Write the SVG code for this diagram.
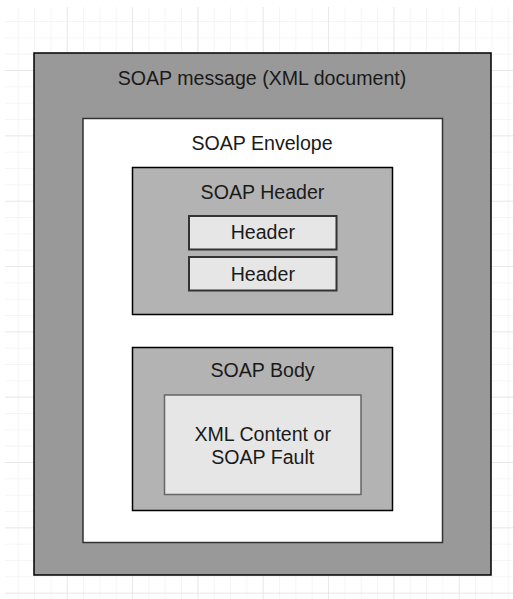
<svg xmlns="http://www.w3.org/2000/svg" width="513" height="599" viewBox="0 0 513 599">
  <style>
    .lbl { font-family: "Liberation Sans", Arial, sans-serif; font-size: 19.6px; fill: #1a1a1a; text-anchor: middle; }
    .box { stroke: #000; stroke-width: 1.5; }
  </style>
  <defs>
    <pattern id="minor" x="1.4" y="4.7" width="16.333" height="16.333" patternUnits="userSpaceOnUse">
      <path d="M0 0 V16.333 M0 0 H16.333" fill="none" stroke="#ececec" stroke-width="1"/>
    </pattern>
    <pattern id="major" x="1.4" y="4.7" width="65.333" height="65.333" patternUnits="userSpaceOnUse">
      <path d="M0 0 V65.333 M0 0 H65.333" fill="none" stroke="#dcdcdc" stroke-width="1"/>
    </pattern>
  </defs>

  <!-- background grid -->
  <rect width="513" height="599" fill="#fff"/>
  <rect x="5" y="7" width="508" height="592" fill="url(#minor)"/>
  <rect x="5" y="7" width="508" height="592" fill="url(#major)"/>

  <g id="soap-message">
    <rect class="box" x="34" y="53" width="457" height="522" fill="#999999"/>
    <text class="lbl" x="262" y="85">SOAP message (XML document)</text>
  </g>

  <g id="soap-envelope">
    <rect x="83" y="118.5" width="359.5" height="424" fill="#ffffff" stroke="#333" stroke-width="1.5"/>
    <text class="lbl" x="262" y="150">SOAP Envelope</text>
  </g>

  <g id="soap-header">
    <rect class="box" x="132.5" y="167.5" width="260" height="147" fill="#b3b3b3"/>
    <text class="lbl" x="262.5" y="199">SOAP Header</text>
  </g>

  <g id="header-1">
    <rect x="189" y="216" width="147.5" height="33.5" fill="#e6e6e6" stroke="#333" stroke-width="2"/>
    <text class="lbl" x="262.8" y="239">Header</text>
  </g>

  <g id="header-2">
    <rect x="189" y="257" width="147.5" height="33.5" fill="#e6e6e6" stroke="#333" stroke-width="2"/>
    <text class="lbl" x="262.8" y="281">Header</text>
  </g>

  <g id="soap-body">
    <rect class="box" x="132.5" y="347.5" width="260" height="163" fill="#b3b3b3"/>
    <text class="lbl" x="262.5" y="377">SOAP Body</text>
  </g>

  <g id="xml-content">
    <rect x="164.5" y="395" width="196.5" height="99.5" fill="#e6e6e6" stroke="#666" stroke-width="1.5"/>
    <text class="lbl" x="262.7" y="441">XML Content or</text>
    <text class="lbl" x="262.7" y="463.5">SOAP Fault</text>
  </g>

  <g id="connectors"></g>
</svg>
